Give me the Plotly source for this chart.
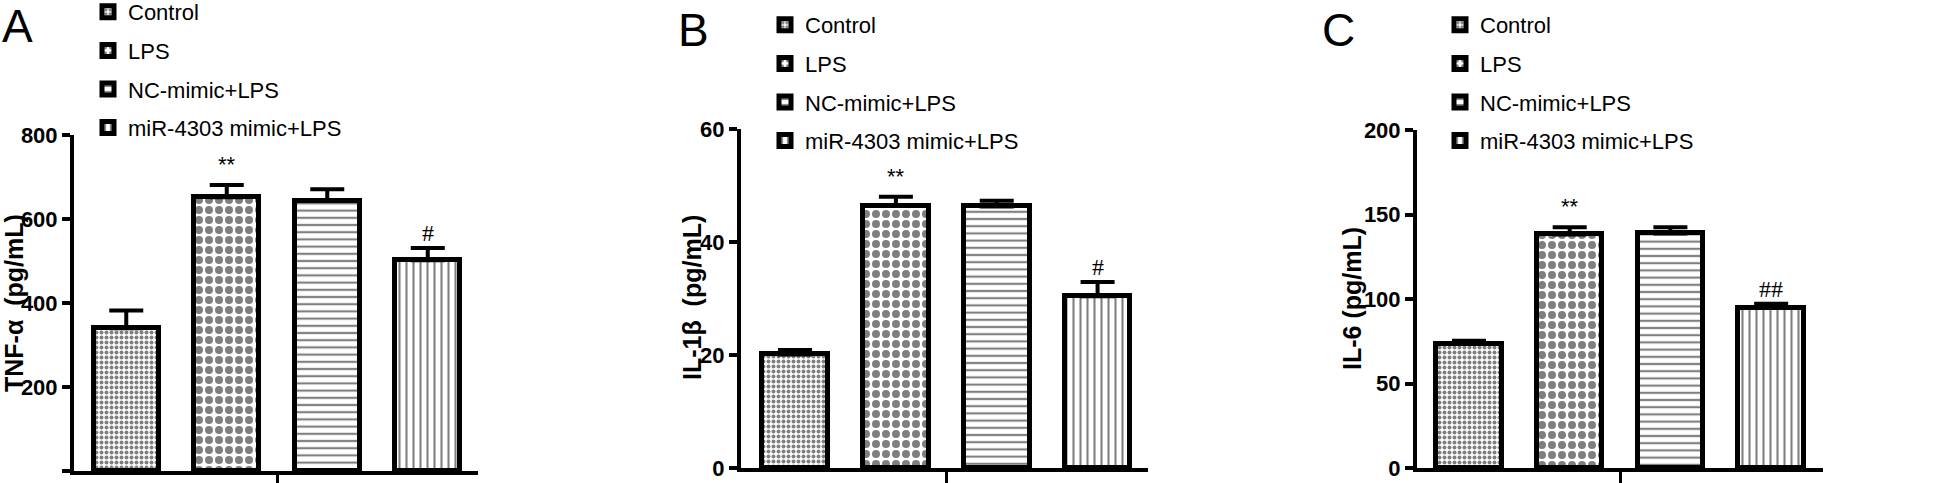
import plotly.graph_objects as go

# ---------------- data ----------------
groups = ["Control", "LPS", "NC-mimic+LPS", "miR-4303 mimic+LPS"]
positions = [0, 1, 2, 3]

tnf_mean = [340, 652, 644, 502]
tnf_sem = [42, 29, 27, 29]

il1b_mean = [20.1, 46.4, 46.3, 30.4]
il1b_sem = [0.8, 1.6, 1.0, 2.5]

il6_mean = [73.5, 138.2, 138.8, 94.8]
il6_sem = [1.8, 4.2, 3.6, 2.4]

sig_marks = [["", "**", "", "#"], ["", "**", "", "#"], ["", "**", "", "##"]]

panel_letters = ["A", "B", "C"]
y_titles = ["TNF-α  (pg/mL)", "IL-1β  (pg/mL)", "IL-6 (pg/mL)"]
y_ranges = [[0, 800], [0, 60], [0, 200]]
y_dticks = [200, 20, 50]

# ---------------- styling ----------------
W, H = 1960, 483
SANS = "Liberation Sans, Arial"
patterns = [
    dict(shape=".", size=5, solidity=0.5, fgcolor="black", bgcolor="white"),
    dict(shape=".", size=10, solidity=0.5, fgcolor="black", bgcolor="white"),
    dict(shape="-", size=7.2, solidity=0.3, fgcolor="black", bgcolor="white"),
    dict(shape="|", size=7, solidity=0.3, fgcolor="black", bgcolor="white"),
]

# pixel geometry (measured from reference)
x_px = [(74, 478), (741, 1148), (1417, 1823)]
y_px = [(471, 135), (468, 129), (468, 130)]
x_ranges = [[-0.52, 3.5], [-0.536, 3.5], [-0.516, 3.515]]
legend_pos = [(88, -9), (765, 4), (1440, 4)]
title_pos = [(14, 303), (692, 298), (1352, 299)]
letter_pos = [(0, 0), (676, 4), (1320, 4)]

means = [tnf_mean, il1b_mean, il6_mean]
sems = [tnf_sem, il1b_sem, il6_sem]

fig = go.Figure()
annotations = []
for p in range(3):
    ax = "" if p == 0 else str(p + 1)
    leg = "legend" if p == 0 else f"legend{p + 1}"
    for i, g in enumerate(groups):
        fig.add_trace(go.Bar(
            x=[positions[i]], y=[means[p][i]],
            name=g,
            width=0.65,
            marker=dict(color="white", line=dict(color="black", width=5),
                        pattern=patterns[i]),
            error_y=dict(type="data", symmetric=False, array=[sems[p][i]],
                         arrayminus=[0], thickness=4, width=17, color="black"),
            xaxis="x" + ax, yaxis="y" + ax,
            legend=leg, legendgroup=f"{p}-{i}",
        ))
        if sig_marks[p][i]:
            is_hash = "#" in sig_marks[p][i]
            annotations.append(dict(
                x=positions[i], y=means[p][i] + sems[p][i],
                xref="x" + ax, yref="y" + ax,
                text=sig_marks[p][i], showarrow=False,
                yanchor="bottom", yshift=(0 if is_hash else 6),
                font=dict(family="Liberation Serif" if is_hash else SANS,
                          size=24 if is_hash else 22, color="black"),
            ))
    (x0, x1), (y0, y1) = x_px[p], y_px[p]
    fig.update_layout(**{
        "xaxis" + ax: dict(
            domain=[x0 / W, x1 / W], range=x_ranges[p], automargin=False,
            anchor="y" + ax, showline=True, linewidth=4, linecolor="black",
            ticks="outside", ticklen=11, tickwidth=3, tickcolor="black",
            tickvals=[1.5], ticktext=[""], showgrid=False, zeroline=False,
            fixedrange=True),
        "yaxis" + ax: dict(
            domain=[1 - y0 / H, 1 - y1 / H], range=y_ranges[p], automargin=False,
            anchor="x" + ax, showline=True, linewidth=4, linecolor="black",
            ticks="outside", ticklen=8, tickwidth=4, tickcolor="black",
            dtick=y_dticks[p], showgrid=False, zeroline=False,
            tickfont=dict(family=SANS, size=22, color="black", weight="bold"),
            fixedrange=True),
        leg: dict(
            x=legend_pos[p][0] / W, y=1 - legend_pos[p][1] / H,
            xanchor="left", yanchor="top", bgcolor="rgba(0,0,0,0)",
            font=dict(family=SANS, size=22, color="black"),
            tracegroupgap=7, itemclick=False, itemdoubleclick=False),
    })
    tx, ty = title_pos[p]
    annotations.append(dict(
        x=tx / W, y=1 - ty / H, xref="paper", yref="paper",
        text=y_titles[p], textangle=-90, showarrow=False,
        xanchor="center", yanchor="middle",
        font=dict(family=SANS, size=25, color="black", weight="bold")))
    lx, ly = letter_pos[p]
    annotations.append(dict(
        x=lx / W, y=1 - ly / H, xref="paper", yref="paper",
        text=panel_letters[p], showarrow=False,
        xanchor="left", yanchor="top", yshift=2,
        font=dict(family=SANS, size=46, color="black")))

fig.update_layout(
    width=W, height=H, margin=dict(l=0, r=0, t=0, b=0, autoexpand=False),
    paper_bgcolor="white", plot_bgcolor="white",
    showlegend=True, barmode="overlay", bargap=0,
    annotations=annotations,
)

fig.write_html("out.html", config={"displayModeBar": False},
               post_script="document.body.style.margin='0';")
